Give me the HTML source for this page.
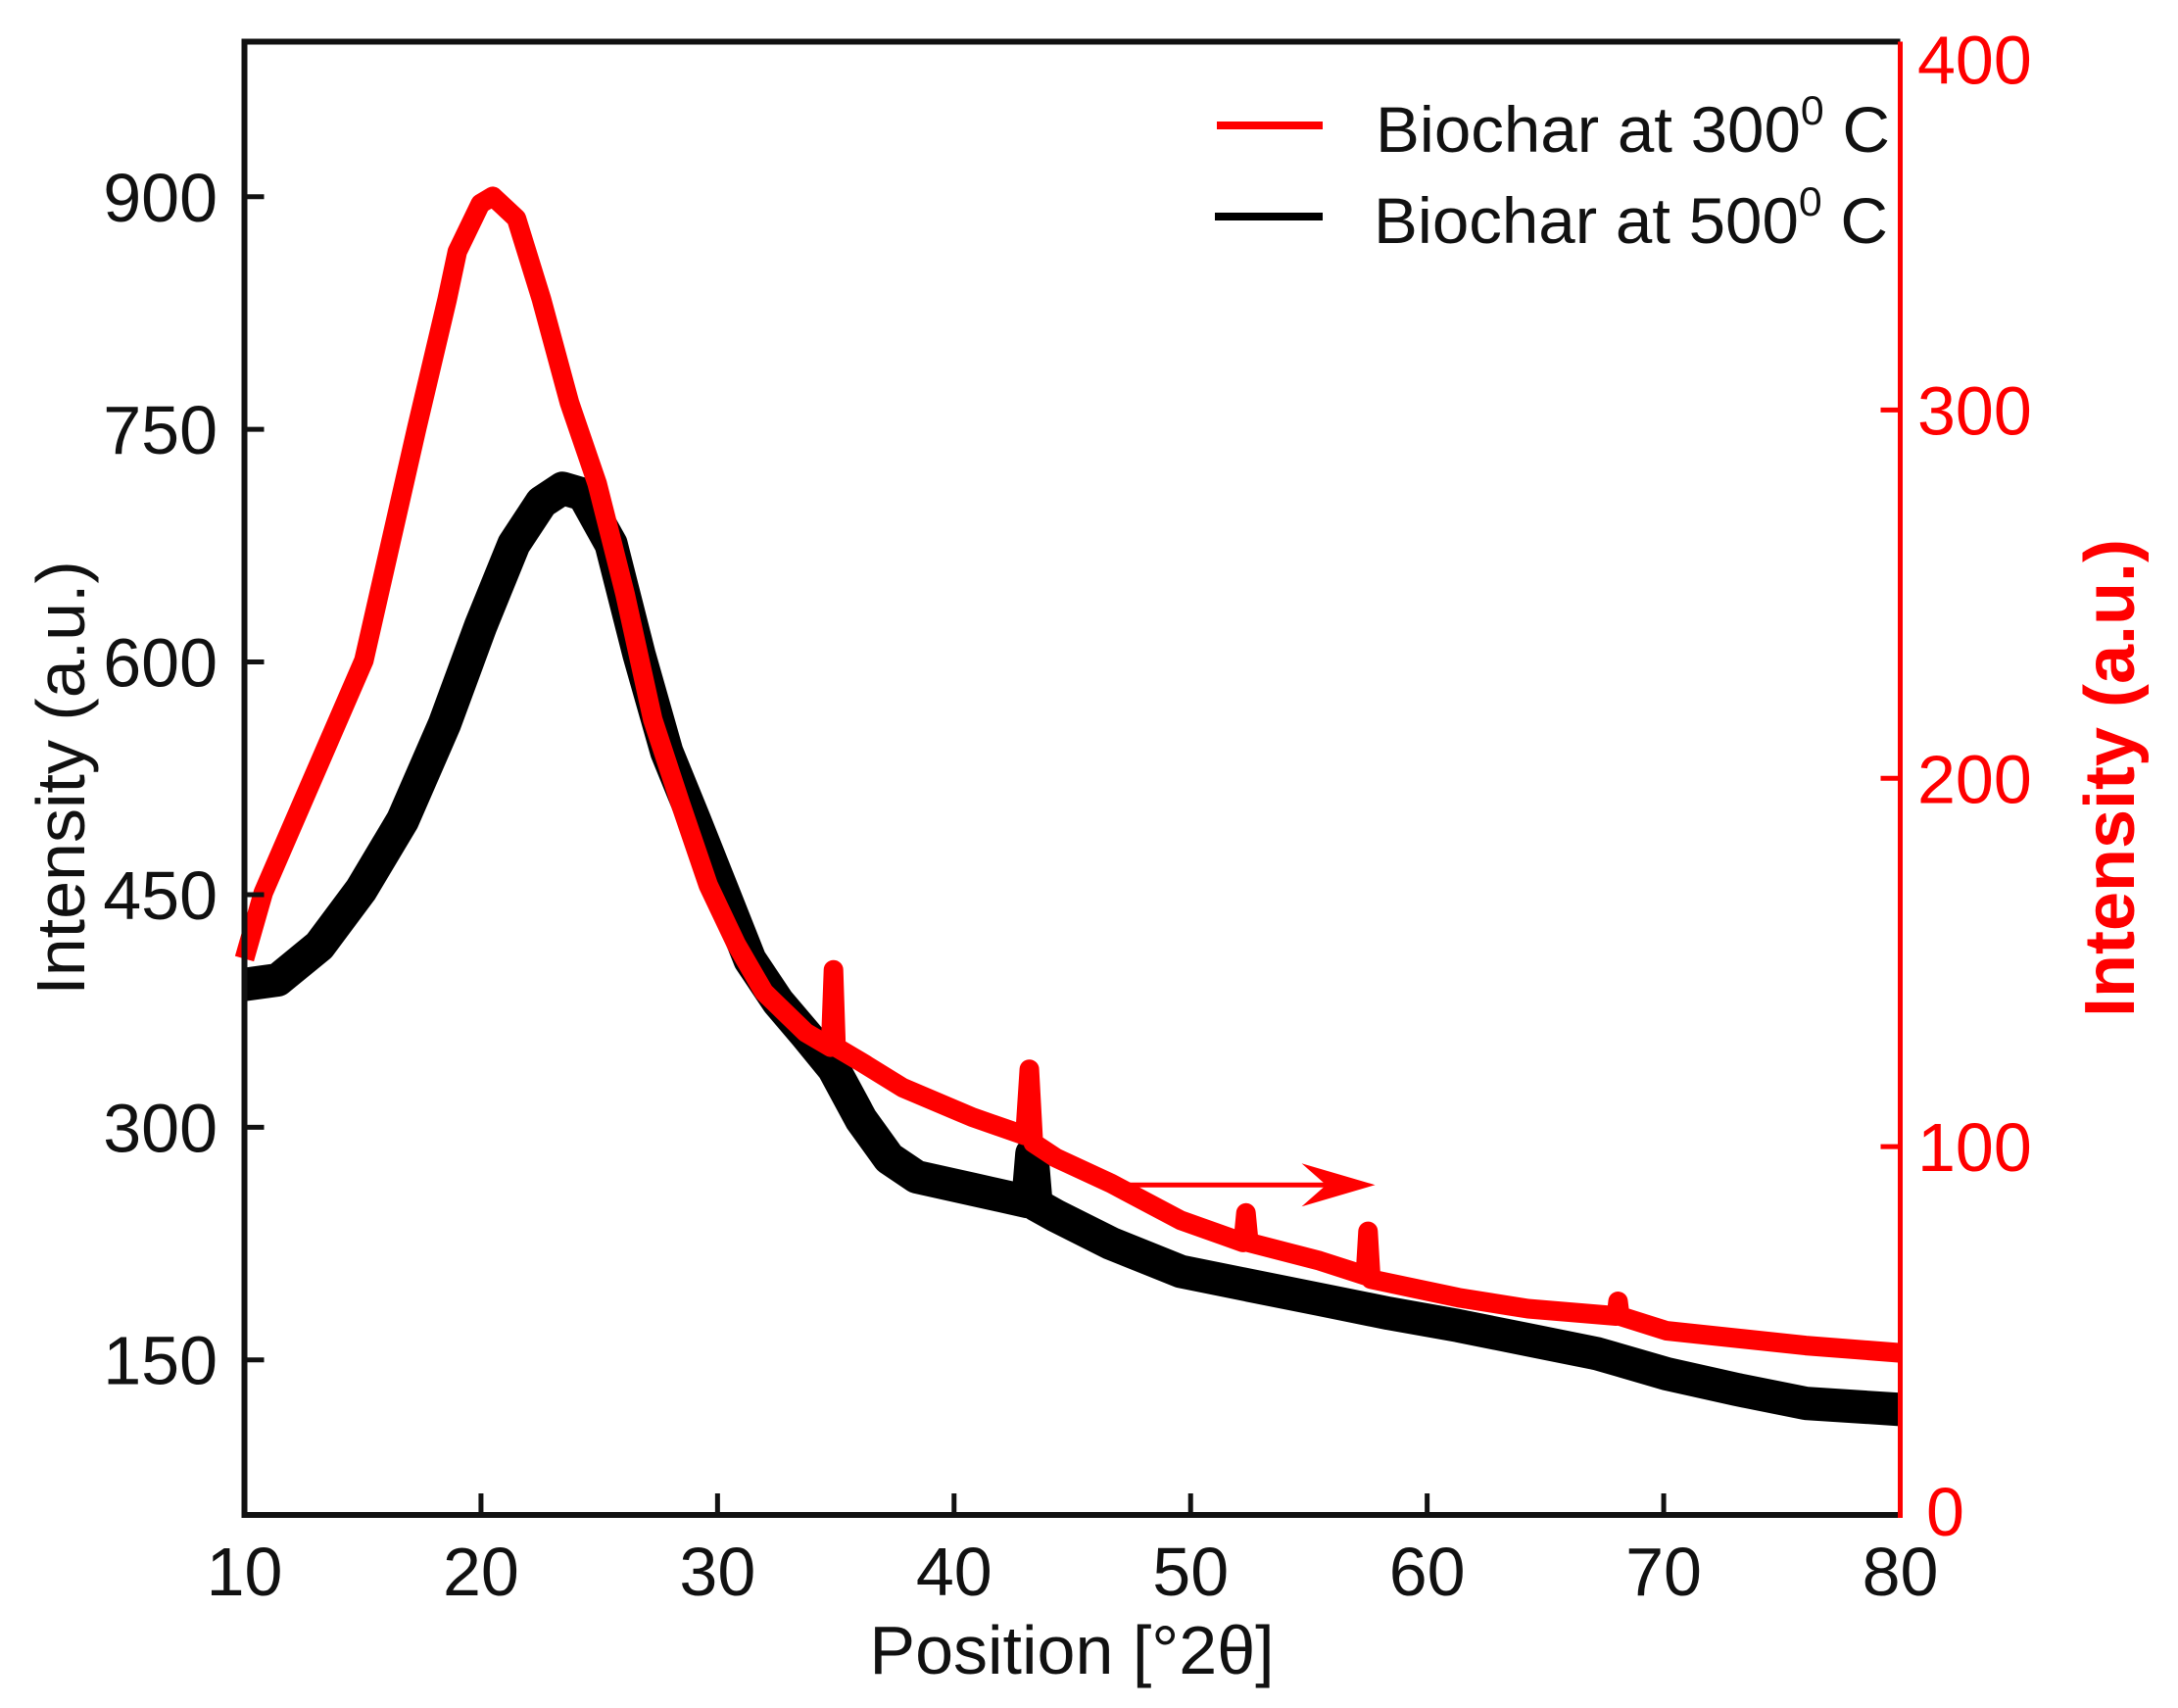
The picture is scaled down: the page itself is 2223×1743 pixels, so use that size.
<!DOCTYPE html>
<html>
<head>
<meta charset="utf-8">
<style>
html,body{margin:0;padding:0;background:#fff;}
svg{display:block;}
text{font-family:"Liberation Sans",Arial,sans-serif;}
</style>
</head>
<body>
<svg id="chart" width="2223" height="1743" viewBox="0 0 2223 1743">
  <g id="series"></g>
  <g id="axes"></g>
  <g id="legend">
    <line x1="1242" y1="128" x2="1350" y2="128" stroke="#ff0000" stroke-width="8"/>
    <text x="1404" y="155" font-size="66" textLength="525" lengthAdjust="spacingAndGlyphs" fill="#111">Biochar at 300<tspan dy="-28" font-size="42">0</tspan><tspan dy="28"> C</tspan></text>
    <line x1="1240" y1="221" x2="1350" y2="221" stroke="#000" stroke-width="8"/>
    <text x="1402" y="248" font-size="66" textLength="525" lengthAdjust="spacingAndGlyphs" fill="#111">Biochar at 500<tspan dy="-28" font-size="42">0</tspan><tspan dy="28"> C</tspan></text>
  </g>
  <text x="0" y="0" transform="translate(86,794) rotate(-90)" text-anchor="middle" font-size="70" fill="#111">Intensity (a.u.)</text>
  <text x="0" y="0" transform="translate(2178,794) rotate(-90)" text-anchor="middle" font-size="72" font-weight="bold" fill="#ff0000">Intensity (a.u.)</text>
  <text x="1094" y="1708" text-anchor="middle" font-size="70" fill="#111">Position [°2θ]</text>
</svg>
<script>
// ---- data ----
const redX = [10,10.8,15.05,17.28,18.57,19.0,19.98,20.5,21.5,22.56,23.74,24.91,26.09,27.26,28.44,29.61,30.79,31.96,33.72,34.78,34.90,35.01,36.07,37.83,40.77,43.00,43.18,43.35,44.29,46.64,49.58,52.22,52.34,52.46,55.45,57.39,57.50,57.62,61.32,64.26,68.0,68.07,68.15,70.13,76.0,80];
const redY = [151,169,232,295,330,343,356,358,352,330,302,280,250,216,193,171,155,142,131,127,148,127,123,116,108,103,121,101,97,90,80,74,82,74,69,65,77,64,59,56,54,58,54,50,46,44];
const blackX = [10,11.41,13.17,14.93,16.69,18.46,19.98,21.39,22.56,23.45,24.33,25.50,26.68,27.85,29.03,30.20,31.37,32.55,33.72,34.90,36.07,37.25,38.42,40.77,43.12,43.29,43.47,44.29,46.64,49.58,52.51,55.45,58.38,61.32,64.26,67.19,70.13,73.06,76.0,80];
const blackY = [392,395,417,453,498,560,623,676,703,712,708,676,605,542,498,453,408,381,360,338,305,280,268,260,252,283,250,243,225,207,198,189,180,172,163,154,141,131,122,118];
const xTicks = [10,20,30,40,50,60,70,80];
const leftTicks = [150,300,450,600,750,900];
const rightTicks = [0,100,200,300,400];
const arrowX = [47.1,57.8];
const arrowV = [89.6,89.6];

// ---- axes functions ----
const L=249.5,R=1939.5,T=42.5,B=1546;
function X(v){return L+(v-10)/70*(R-L);}
function YL(v){return T+(1000-v)/950*(B-T);}
function YR(v){return B-v/400*(B-T);}
const NS='http://www.w3.org/2000/svg';
function mk(tag,attrs,parent){const e=document.createElementNS(NS,tag);for(const k in attrs)e.setAttribute(k,attrs[k]);parent.appendChild(e);return e;}

const seriesG=document.getElementById('series');
const axesG=document.getElementById('axes');

let d='';
blackX.forEach((x,i)=>{d+=(i?'L':'M')+X(x).toFixed(1)+' '+YL(blackY[i]).toFixed(1);});
const pb=mk('path',{d:d,fill:'none',stroke:'#000','stroke-width':34,'stroke-linejoin':'round'},seriesG);



d='';
redX.forEach((x,i)=>{d+=(i?'L':'M')+X(x).toFixed(1)+' '+YR(redY[i]).toFixed(1);});
const pr=mk('path',{d:d,fill:'none',stroke:'#ff0000','stroke-width':20,'stroke-linejoin':'round'},seriesG);



// arrow
const ax1=X(arrowX[0]),ax2=X(arrowX[1]),ay=YR(arrowV[0]);
const al=mk('line',{x1:ax1,y1:ay,x2:ax2-30,y2:ay,stroke:'#ff0000','stroke-width':5},seriesG);


const ah=mk('polygon',{points:`${ax2},${ay} ${ax2-75},${ay-22} ${ax2-50},${ay} ${ax2-75},${ay+22}`,fill:'#ff0000'},seriesG);



// frame
const frameTop=mk('line',{x1:L,y1:T,x2:R,y2:T,stroke:'#111','stroke-width':6},axesG);


const frameBot=mk('line',{x1:L-3,y1:B,x2:R,y2:B,stroke:'#111','stroke-width':6},axesG);


const frameLeft=mk('line',{x1:L,y1:T-3,x2:L,y2:B+3,stroke:'#111','stroke-width':6},axesG);


const frameRight=mk('line',{x1:R,y1:T,x2:R,y2:B+3,stroke:'#ff0000','stroke-width':5},axesG);



xTicks.forEach(v=>{
  if(v>10&&v<80){
    const t=mk('line',{x1:X(v),y1:B,x2:X(v),y2:B-22,stroke:'#111','stroke-width':5},axesG);
    
    
  }
  const lb=mk('text',{x:X(v),y:1628,'text-anchor':'middle','font-size':70,fill:'#111'},axesG);
  lb.textContent=v;
  
  
});
leftTicks.forEach(v=>{
  const t=mk('line',{x1:L,y1:YL(v),x2:L+20,y2:YL(v),stroke:'#111','stroke-width':5},axesG);
  
  
  const lb=mk('text',{x:222,y:YL(v)+25,'text-anchor':'end','font-size':70,fill:'#111'},axesG);
  lb.textContent=v;
  
  
});
rightTicks.forEach(v=>{
  if(v>0&&v<400){
    const t=mk('line',{x1:R,y1:YR(v),x2:R-20,y2:YR(v),stroke:'#ff0000','stroke-width':5},axesG);
    
    
  }
  const lb=mk('text',{x:v===0?1966:1957,y:YR(v)+25+(v===400?18:0)+(v===0?-4:0),'text-anchor':'start','font-size':70,fill:'#ff0000'},axesG);
  lb.textContent=v;
  
  
});
</script>
</body>
</html>
